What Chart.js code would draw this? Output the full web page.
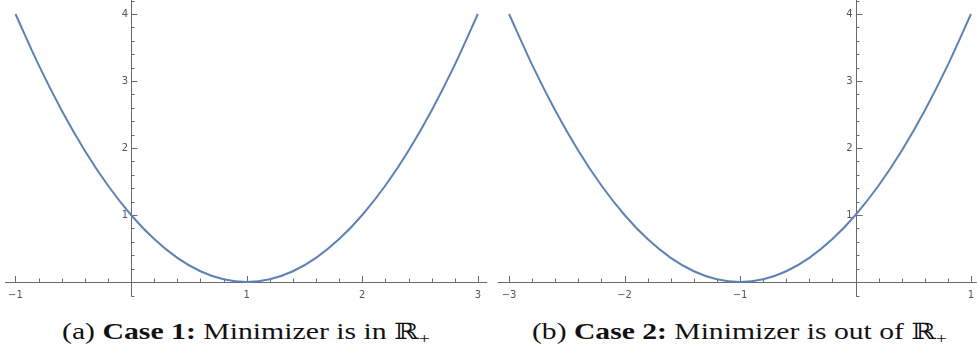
<!DOCTYPE html>
<html>
<head>
<meta charset="utf-8">
<script src="https://cdn.jsdelivr.net/npm/chart.js@4"></script>
<style>
  html, body { margin: 0; padding: 0; background: #fff; width: 977px; height: 360px; overflow: hidden; }
  .panel { position: absolute; top: 0; height: 300px; }
  .cap { position: absolute; top: 319px; line-height: 26px; font-family: "Liberation Serif", "DejaVu Serif", serif; font-size: 22.5px; color: #111; white-space: nowrap; transform-origin: 0 0; }
  .cap b { font-weight: bold; }
  .cap sub { font-size: 15px; vertical-align: -4px; line-height: 0; }
</style>
</head>
<body>
<div class="panel" style="left:0;width:490px"><canvas id="c1" width="490" height="300"></canvas></div>
<div class="panel" style="left:490px;width:487px"><canvas id="c2" width="487" height="300"></canvas></div>
<div class="cap" id="capA">(a) <b>Case 1:</b> Minimizer is in ℝ<sub>+</sub></div>
<div class="cap" id="capB">(b) <b>Case 2:</b> Minimizer is out of ℝ<sub>+</sub></div>
<script>
// ---- data ----
const leftX  = [-1,-0.8,-0.6,-0.4,-0.2,0,0.2,0.4,0.6,0.8,1,1.2,1.4,1.6,1.8,2,2.2,2.4,2.6,2.8,3];
const leftY  = [4,3.24,2.56,1.96,1.44,1,0.64,0.36,0.16,0.04,0,0.04,0.16,0.36,0.64,1,1.44,1.96,2.56,3.24,4];
const rightX = [-3,-2.8,-2.6,-2.4,-2.2,-2,-1.8,-1.6,-1.4,-1.2,-1,-0.8,-0.6,-0.4,-0.2,0,0.2,0.4,0.6,0.8,1];
const rightY = [4,3.24,2.56,1.96,1.44,1,0.64,0.36,0.16,0.04,0,0.04,0.16,0.36,0.64,1,1.44,1.96,2.56,3.24,4];
const leftXTicks  = [-1,0,1,2,3];
const rightXTicks = [-3,-2,-1,0,1];
const yTicks = [0,1,2,3,4];

const CURVE = '#5E81B5';
const AXIS = '#6a6a6a';
const LABEL = '#555';

// fit captions into the spans seen in the reference
function fitCaption(id, left, right) {
  const el = document.getElementById(id);
  const w = el.getBoundingClientRect().width;
  const s = (right - left) / w;
  el.style.left = left + 'px';
  el.style.transform = 'scaleX(' + s + ')';
}
fitCaption('capA', 62, 430);
fitCaption('capB', 532, 947);

function axesPlugin(xTicks, xAxisRange, yAxisRange) {
  return {
    id: 'mmaAxes',
    beforeDatasetsDraw(chart) {
      const ctx = chart.ctx, xs = chart.scales.x, ys = chart.scales.y;
      const x0 = xs.getPixelForValue(0), y0 = ys.getPixelForValue(0);
      ctx.save();
      ctx.strokeStyle = AXIS; ctx.lineWidth = 1;
      ctx.beginPath();
      ctx.moveTo(xs.getPixelForValue(xAxisRange[0]), Math.round(y0) + 0.5);
      ctx.lineTo(xs.getPixelForValue(xAxisRange[1]), Math.round(y0) + 0.5);
      ctx.stroke();
      const xa = Math.round(x0) + 0.5;
      ctx.beginPath();
      ctx.moveTo(xa, ys.getPixelForValue(yAxisRange[1]));
      ctx.lineTo(xa, ys.getPixelForValue(yAxisRange[0]));
      ctx.stroke();
      const yb = Math.round(ys.getPixelForValue(yAxisRange[0])) - 0.5;
      ctx.beginPath(); ctx.moveTo(xa, yb); ctx.lineTo(xa + 3, yb); ctx.stroke();
      const lo = xTicks[0], hi = xTicks[xTicks.length - 1];
      for (let i = 0; i <= (hi - lo) * 5; i++) {
        const v = lo + i / 5;
        const major = i % 5 === 0;
        const px = Math.round(xs.getPixelForValue(v)) + 0.5;
        ctx.beginPath();
        ctx.moveTo(px, Math.round(y0) + 0.5);
        ctx.lineTo(px, Math.round(y0) + 0.5 - (major ? 6.5 : 4));
        ctx.stroke();
      }
      for (let i = 1; i <= 21; i++) {
        const v = i / 5;
        const major = i % 5 === 0;
        const py = Math.round(ys.getPixelForValue(v)) + 0.5;
        ctx.beginPath();
        ctx.moveTo(xa, py);
        ctx.lineTo(xa + (major ? 6 : 3), py);
        ctx.stroke();
      }
      ctx.fillStyle = LABEL;
      ctx.font = '10px "DejaVu Sans", sans-serif';
      ctx.textAlign = 'center'; ctx.textBaseline = 'top';
      xTicks.forEach(v => {
        if (v === 0) return;
        const s = v < 0 ? '\u2212' + Math.abs(v) : String(v);
        ctx.fillText(s, xs.getPixelForValue(v), y0 + 8);
      });
      ctx.textAlign = 'right'; ctx.textBaseline = 'middle';
      yTicks.forEach(v => {
        if (v === 0) return;
        ctx.fillText(String(v), x0 - 3, ys.getPixelForValue(v));
      });
      ctx.restore();
    }
  };
}

function makeChart(id, xsArr, ysArr, xmin, xmax, xTicks, xAxisRange) {
  const pts = xsArr.map((x, i) => ({ x: x, y: ysArr[i] }));
  return new Chart(document.getElementById(id), {
    type: 'line',
    data: { datasets: [{ data: pts, borderColor: CURVE, borderWidth: 2, pointRadius: 0, cubicInterpolationMode: 'monotone', fill: false }] },
    options: {
      responsive: false, animation: false, events: [],
      layout: { padding: 0 },
      plugins: { legend: { display: false }, tooltip: { enabled: false } },
      scales: {
        x: { type: 'linear', min: xmin, max: xmax, display: false },
        y: { type: 'linear', min: -0.269, max: 4.209, display: false }
      }
    },
    plugins: [axesPlugin(xTicks, xAxisRange, [-0.22, 4.209])]
  });
}

makeChart('c1', leftX, leftY, -1.134, 3.105, leftXTicks, [-1.09, 3.08]);
makeChart('c2', rightX, rightY, -3.165, 1.052, rightXTicks, [-3.1, 1.05]);
</script>
</body>
</html>
